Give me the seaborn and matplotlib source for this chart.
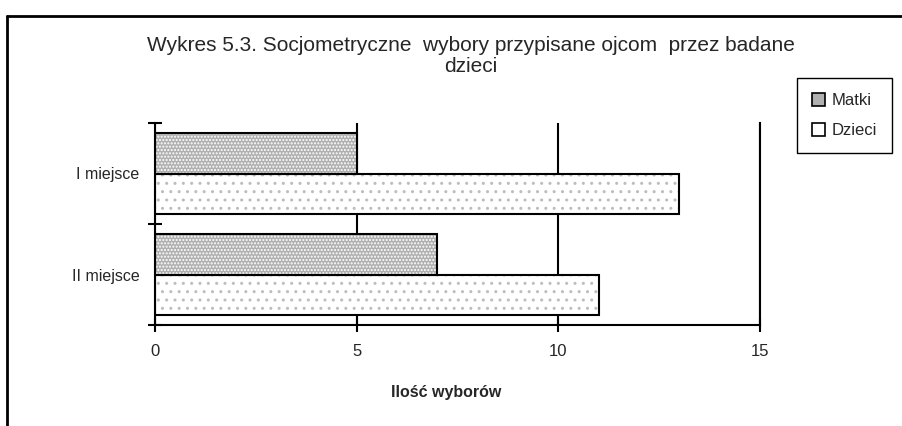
import matplotlib
matplotlib.use('Agg')
import pandas as pd
import matplotlib.pyplot as plt
import seaborn as sns
from matplotlib.patches import Rectangle, Patch
from matplotlib.lines import Line2D

# data
miejsca = ['I miejsce', 'II miejsce']
serie = ['Matki', 'Dzieci']
matki = [5, 7]
dzieci = [13, 11]
x_ticks = [0, 5, 10, 15]
title = 'Wykres 5.3. Socjometryczne  wybory przypisane ojcom  przez badane\ndzieci'
xlabel = 'Ilość wyborów'

df = pd.DataFrame({
    'miejsce': miejsca * 2,
    'seria': [serie[0]] * len(matki) + [serie[1]] * len(dzieci),
    'wybory': matki + dzieci,
})

sns.set_style('white')
plt.rcParams['font.family'] = ['Liberation Sans', 'DejaVu Sans']
plt.rcParams['hatch.linewidth'] = 1.0

W, H = 903, 426
fig = plt.figure(figsize=(W / 100, H / 100), dpi=100)
ax = fig.add_axes([155 / W, 1 - 325 / H, 605 / W, 202 / H])

face = {'Matki': '#b0b0b0', 'Dzieci': 'white'}
hatch = {'Matki': ('.....', 'white'), 'Dzieci': ('..', '#bdbdbd')}

sns.barplot(data=df, y='miejsce', x='wybory', hue='seria', order=miejsca,
            hue_order=serie, orient='h', width=0.8, saturation=1,
            palette=[face[s] for s in serie], linewidth=0, legend=False, ax=ax)

# dotted fill + black outline
for cont, name in zip(ax.containers, serie):
    for p in cont:
        p.set_hatch(hatch[name][0])
        p.set_edgecolor(hatch[name][1])
        p.set_linewidth(0)
        ax.add_patch(Rectangle(p.get_xy(), p.get_width(), p.get_height(),
                               fill=False, ec='black', lw=1.5, zorder=3))

ax.set_xlim(0, 15)
ax.set_ylim(len(miejsca) - 0.5, -0.5)
ax.set_xticks(x_ticks)
ax.set_xticklabels([str(t) for t in x_ticks])
ax.set_yticks(range(len(miejsca)))
ax.set_yticklabels(miejsca)
ax.set_yticks([i - 0.5 for i in range(len(miejsca) + 1)], minor=True)
ax.set_ylabel('')

ax.set_axisbelow(True)
ax.xaxis.grid(True, color='black', lw=1.5)
ax.yaxis.grid(False)
for s in ['left', 'bottom', 'right']:
    ax.spines[s].set_visible(True)
    ax.spines[s].set_color('black')
    ax.spines[s].set_linewidth(1.5)
ax.spines['top'].set_visible(False)

ax.tick_params(axis='x', which='major', direction='inout', length=10, width=1.5,
               color='black', labelsize=12, pad=9, bottom=True)
ax.tick_params(axis='y', which='major', length=0, labelsize=11.5, pad=11)
ax.tick_params(axis='y', which='minor', direction='inout', length=10, width=1.5,
               color='black', left=True)

ax.set_xlabel(xlabel, fontweight='bold', fontsize=11.5)
ax.xaxis.set_label_coords((446 - 155) / 605, -(392 - 325) / 202)
ax.xaxis.label.set_va('center')

fig.text(471 / W, 1 - 56 / H, title, ha='center', va='center',
         multialignment='center', fontsize=15, linespacing=1.1)

handles = [Patch(facecolor=face[s], edgecolor='black', lw=1.2) for s in serie]
fig.legend(handles, serie, loc='upper left', bbox_to_anchor=(797 / W, 1 - 78 / H),
           frameon=True, fancybox=False, edgecolor='black', framealpha=1,
           fontsize=12, handlelength=0.8, handleheight=0.8, handletextpad=0.4,
           labelspacing=0.9, borderpad=0.9, borderaxespad=0)

# frame around the chart
fig.add_artist(Line2D([7 / W, 7 / W], [0, 1 - 16 / H], transform=fig.transFigure,
                      color='black', lw=2))
fig.add_artist(Line2D([7 / W, 1], [1 - 16 / H, 1 - 16 / H], transform=fig.transFigure,
                      color='black', lw=2))

fig.savefig('out.png', dpi=100)
